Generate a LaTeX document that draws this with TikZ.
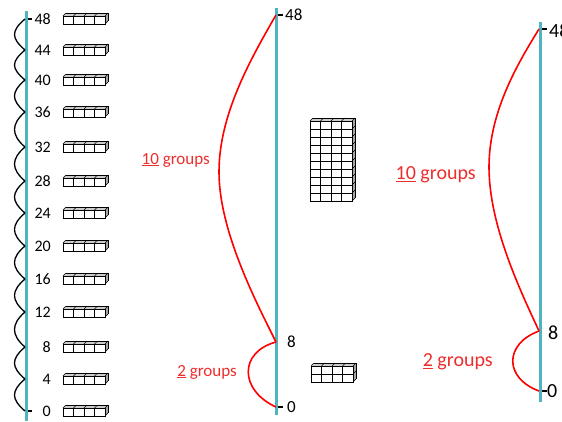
\documentclass[tikz,border=0pt]{standalone}
\usepackage{fontspec}
\setmainfont{Carlito}
\definecolor{lineteal}{RGB}{78,180,192}
\definecolor{grpred}{RGB}{238,45,45}
\tikzset{
  numline/.style={lineteal,line width=3pt},
  hop/.style={red,line width=1.6pt},
  hopwave/.style={black,line width=1.3pt},
  tickmark/.style={black,line width=1.5pt},
  cubeedge/.style={black,line width=0.6pt},
  leftlab/.style={font=\fontsize{16}{16}\selectfont,inner sep=0pt},
  midlab/.style={font=\fontsize{17}{17}\selectfont,inner sep=0pt},
  rightlab/.style={font=\fontsize{20}{20}\selectfont,inner sep=0pt},
}
% a bar of 4 cubes, #3 rows deep, front face top left at (#1,#2)
\newcommand{\cubebar}[3]{%
  \begin{scope}[shift={(#1,#2)}]
    \fill[black!20] (0,0) -- (3,-3) -- (45,-3) -- (42,0) -- cycle;
    \fill[black!35] (42,0) -- (45,-3) -- (45,{8*#3-3}) -- (42,{8*#3}) -- cycle;
    \foreach \c in {0,1,2,3,4} \draw[cubeedge] ({\c*10.5},0) -- ++(3,-3);
    \foreach \r in {1,...,#3} \draw[cubeedge] (42,{8*\r}) -- ++(3,-3);
    \draw[cubeedge] (3,-3) -- (45,-3) -- (45,{8*#3-3});
    \foreach \r in {1,...,#3}
      \foreach \c in {0,1,2,3}
        \draw[cubeedge,fill=white] ({\c*10.5},{(\r-1)*8}) rectangle ++(10.5,8);
  \end{scope}}
\begin{document}
\begin{tikzpicture}[x=1pt,y=-1pt]
\useasboundingbox (0,0) rectangle (562,421);
% left line, counting in fours
\coordinate (ltop) at (26,11);
\coordinate (lbot) at (26,421);
\draw[numline] (ltop) -- (lbot);
\foreach \v/\y in {48/19,44/50,40/80,36/112,32/147,28/181,24/213,20/246,16/279,12/312,8/347,4/379,0/411}{
  \coordinate (lw\v) at (25,\y);
  \node[leftlab,anchor=east] (l\v) at (51,\y) {\v};
  \cubebar{63}{\y-3}{1}
}
\foreach \a/\b in {0/4,4/8,8/12,12/16,16/20,20/24,24/28,28/32,32/36,36/40,40/44,44/48}
  \draw[hopwave] (lw\a) .. controls +(-14,-12) and +(-14,12) .. (lw\b);
\draw[tickmark] (lw48) ++(3,0) -- ++(4,0);
\draw[tickmark] (lw0) ++(3,0) -- ++(4,0);
% middle line
\coordinate (mtop) at (276,8);
\coordinate (mbot) at (276,415);
\coordinate (m48) at (276,15);
\coordinate (mbend) at (219,172);
\coordinate (m8) at (276,342);
\coordinate (m0) at (276,407);
\draw[numline] (mtop) -- (mbot);
\draw[tickmark] (m48) ++(2,0) -- ++(5,0);
\draw[tickmark] (m0) ++(2,0) -- ++(5,0);
\node[midlab,anchor=west] (mlab48) at (285,15) {48};
\node[midlab,anchor=west] (mlab8) at (287,342) {8};
\node[midlab,anchor=west] (mlab0) at (287,407) {0};
\draw[hop] (m48) .. controls (250,60) and (219,115) .. (mbend)
  .. controls (219,230) and (255,300) .. (m8);
\draw[hop] (m8) .. controls (239,352) and (239,390) .. (m0);
\node[midlab,anchor=east,text=grpred] (mten) at (210,160) {\underline{10} groups};
\node[midlab,anchor=east,text=grpred] (mtwo) at (237,372) {\underline{2} groups};
\cubebar{310}{121}{10}
\cubebar{311}{366}{2}
% right line
\coordinate (rtop) at (540,22);
\coordinate (rbot) at (540,402);
\coordinate (r48) at (539,29);
\coordinate (rbend) at (489,167);
\coordinate (r8) at (539,331);
\coordinate (r0) at (539,391);
\draw[numline] (rtop) -- (rbot);
\draw[tickmark] (r48) ++(3,0) -- ++(5,0);
\draw[tickmark] (r0) ++(3,0) -- ++(5,0);
\node[rightlab,anchor=west] (rlab48) at (549,31) {48};
\node[rightlab,anchor=west] (rlab8) at (548,333) {8};
\node[rightlab,anchor=west] (rlab0) at (547,391) {0};
\draw[hop] (r48) .. controls (520,60) and (489,110) .. (rbend)
  .. controls (489,225) and (520,290) .. (r8);
\draw[hop] (r8) .. controls (504,344) and (504,378) .. (r0);
\node[rightlab,anchor=east,text=grpred] (rten) at (476,175) {\underline{10} groups};
\node[rightlab,anchor=east,text=grpred] (rtwo) at (493,362) {\underline{2} groups};
\end{tikzpicture}
\end{document}
